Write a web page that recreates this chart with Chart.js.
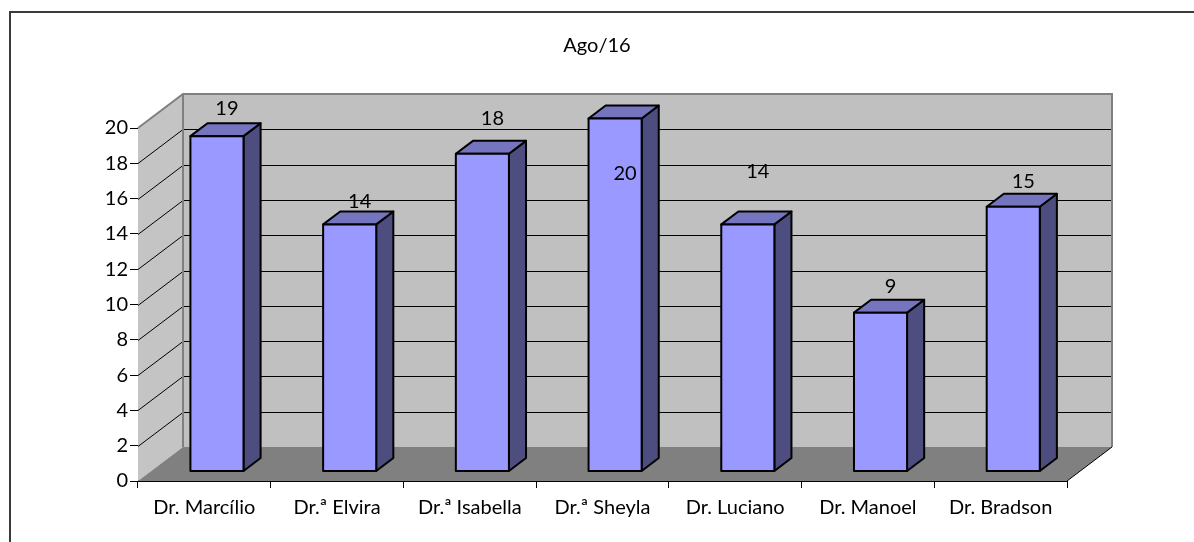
<!DOCTYPE html>
<html>
<head>
<meta charset="utf-8">
<script src="https://cdn.jsdelivr.net/npm/chart.js@4/dist/chart.umd.min.js"></script>
<style>
  html, body { margin: 0; padding: 0; background: #fff; }
  #wrap { width: 1194px; height: 542px; }
</style>
</head>
<body>
<div id="wrap"><canvas id="agoChart"></canvas></div>
<script>
// dados
const doctors = ['Dr. Marcílio', 'Dr.ª Elvira', 'Dr.ª Isabella', 'Dr.ª Sheyla', 'Dr. Luciano', 'Dr. Manoel', 'Dr. Bradson'];
const attendances = [19, 14, 18, 20, 14, 9, 15];
const yTicks = [0, 2, 4, 6, 8, 10, 12, 14, 16, 18, 20];
const chartTitle = 'Ago/16';

// 3D look (Excel style)
const wallDX = 45, wallDY = -34;      // depth of the walls
const barShift = 0.28;               // bar front face position in depth
const barDepth = 0.38;               // bar depth as share of wall depth
const labelNudge = [-28, -23, -35, 55, -53, -26, -25]; // where Excel put the labels

const fontFam = 'Lato, "Open Sans", sans-serif';
const fontSize = 20;

const threeD = {
    id: 'threeD',
    beforeDraw(chart) {
        const c = chart.ctx;
        c.save();
        c.fillStyle = '#fff';
        c.fillRect(0, 0, chart.width, chart.height);
        // outer frame (only top and left visible)
        c.strokeStyle = '#3a3a3a';
        c.lineWidth = 2;
        c.beginPath();
        c.moveTo(10, chart.height);
        c.lineTo(10, 12);
        c.lineTo(chart.width, 12);
        c.stroke();
        // title
        c.fillStyle = '#000';
        c.font = fontSize + 'px ' + fontFam;
        c.textAlign = 'center';
        c.textBaseline = 'middle';
        c.fillText(chartTitle, 597, 46);
        c.restore();
    },
    beforeDatasetsDraw(chart) {
        const c = chart.ctx;
        const { left: L, right: R, top: T, bottom: B } = chart.chartArea;
        const ys = chart.scales.y;
        c.save();
        // left wall
        c.fillStyle = '#c4c4c4';
        c.beginPath();
        c.moveTo(L, T); c.lineTo(L + wallDX, T + wallDY);
        c.lineTo(L + wallDX, B + wallDY); c.lineTo(L, B);
        c.closePath(); c.fill();
        // back wall
        c.fillStyle = '#c0c0c0';
        c.fillRect(L + wallDX, T + wallDY, R - L, B - T);
        // floor
        c.fillStyle = '#808080';
        c.beginPath();
        c.moveTo(L, B); c.lineTo(R, B);
        c.lineTo(R + wallDX, B + wallDY); c.lineTo(L + wallDX, B + wallDY);
        c.closePath(); c.fill();
        // gridlines
        c.strokeStyle = '#000';
        c.lineWidth = 1;
        yTicks.forEach(v => {
            if (v === 0 || v === yTicks[yTicks.length - 1]) return;
            const y = Math.round(ys.getPixelForValue(v)) + 0.5;
            c.beginPath();
            c.moveTo(L, y);
            c.lineTo(L + wallDX, y + wallDY);
            c.lineTo(R + wallDX, y + wallDY);
            c.stroke();
        });
        // wall edges
        c.strokeStyle = '#808080';
        c.lineWidth = 2;
        c.beginPath();
        c.moveTo(L, T);
        c.lineTo(L + wallDX, T + wallDY);
        c.lineTo(R + wallDX, T + wallDY);
        c.lineTo(R + wallDX, B + wallDY);
        c.moveTo(L + wallDX, T + wallDY);
        c.lineTo(L + wallDX, B + wallDY);
        c.stroke();
        // floor right edge
        c.strokeStyle = '#000';
        c.lineWidth = 1;
        c.beginPath();
        c.moveTo(R, B); c.lineTo(R + wallDX, B + wallDY);
        c.stroke();
        c.restore();
    },
    afterDatasetsDraw(chart) {
        const c = chart.ctx;
        const meta = chart.getDatasetMeta(0);
        const fx = wallDX * barShift, fy = wallDY * barShift;
        const dx = wallDX * barDepth, dy = wallDY * barDepth;
        c.save();
        c.lineWidth = 2;
        c.lineJoin = 'round';
        c.strokeStyle = '#000';
        meta.data.forEach((bar, i) => {
            const p = bar.getProps(['x', 'y', 'base', 'width'], true);
            const x0 = p.x - p.width / 2 + fx, x1 = p.x + p.width / 2 + fx;
            const top = p.y + fy, bot = p.base + fy;
            // side
            c.fillStyle = '#4d4d7f';
            c.beginPath();
            c.moveTo(x1, top); c.lineTo(x1 + dx, top + dy);
            c.lineTo(x1 + dx, bot + dy); c.lineTo(x1, bot);
            c.closePath(); c.fill(); c.stroke();
            // top
            c.fillStyle = '#7474bf';
            c.beginPath();
            c.moveTo(x0, top); c.lineTo(x0 + dx, top + dy);
            c.lineTo(x1 + dx, top + dy); c.lineTo(x1, top);
            c.closePath(); c.fill(); c.stroke();
            // front
            c.fillStyle = '#9999ff';
            c.fillRect(x0, top, x1 - x0, bot - top);
            c.strokeRect(x0, top, x1 - x0, bot - top);
            // value label
            c.fillStyle = '#000';
            c.font = fontSize + 'px ' + fontFam;
            c.textAlign = 'center';
            c.textBaseline = 'middle';
            c.fillText(String(attendances[i]), (x0 + x1) / 2 + 10, top + labelNudge[i]);
        });
        c.restore();
    }
};

new Chart(document.getElementById('agoChart'), {
    type: 'bar',
    data: {
        labels: doctors,
        datasets: [{
            label: chartTitle,
            data: attendances,
            backgroundColor: 'rgba(0,0,0,0)',
            borderWidth: 0,
            categoryPercentage: 1,
            barPercentage: 0.4
        }]
    },
    options: {
        responsive: true,
        maintainAspectRatio: false,
        animation: false,
        layout: { padding: { left: 0, right: 127, top: 128, bottom: 0 } },
        plugins: {
            legend: { display: false },
            tooltip: { enabled: false },
            title: { display: false }
        },
        scales: {
            x: {
                offset: true,
                afterFit: s => { s.height = 61; },
                border: { display: true, color: '#000', width: 1 },
                grid: { offset: true, drawOnChartArea: false, drawTicks: true, tickLength: 7, color: '#000' },
                ticks: { color: '#000', padding: 8, font: { family: fontFam, size: fontSize } }
            },
            y: {
                min: 0,
                max: 20,
                afterFit: s => { s.width = 138; },
                afterBuildTicks: s => { s.ticks = yTicks.map(v => ({ value: v })); },
                border: { display: true, color: '#000', width: 1 },
                grid: { drawOnChartArea: false, drawTicks: true, tickLength: 8, color: '#000' },
                ticks: { color: '#000', padding: 2, font: { family: fontFam, size: fontSize } }
            }
        }
    },
    plugins: [threeD]
});
</script>
</body>
</html>
